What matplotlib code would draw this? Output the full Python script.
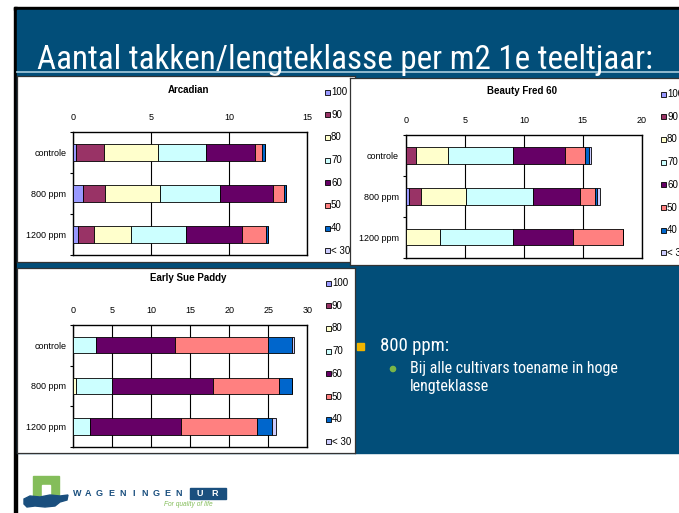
import numpy as np
import matplotlib.pyplot as plt
from matplotlib import font_manager
from matplotlib.patches import Rectangle, Circle, Polygon

W, H = 679, 513

classes = ['100', '90', '80', '70', '60', '50', '40', '< 30']
groups = ['controle', '800 ppm', '1200 ppm']
class_colors = ['#9999FF', '#993366', '#FFFFCC', '#CCFFFF',
                '#660066', '#FF8080', '#0066CC', '#CCCCFF']

# rows = length class, columns = controle / 800 ppm / 1200 ppm
arcadian = [
    [0.19, 0.64, 0.30],
    [1.80, 1.37, 1.05],
    [3.42, 3.53, 2.35],
    [3.12, 3.85, 3.55],
    [3.10, 3.44, 3.55],
    [0.49, 0.66, 1.54],
    [0.17, 0.17, 0.11],
    [0.00, 0.00, 0.00],
]
beauty = [
    [0.00, 0.23, 0.00],
    [0.88, 1.02, 0.00],
    [2.66, 3.82, 2.89],
    [5.57, 5.74, 6.22],
    [4.41, 3.93, 5.09],
    [1.64, 1.27, 4.21],
    [0.40, 0.17, 0.00],
    [0.17, 0.25, 0.00],
]
early = [
    [0.00, 0.00, 0.00],
    [0.00, 0.00, 0.00],
    [0.00, 0.38, 0.00],
    [2.95, 4.53, 2.18],
    [10.04, 12.99, 11.67],
    [11.92, 8.50, 9.74],
    [3.16, 1.58, 1.92],
    [0.26, 0.00, 0.47],
]

title = "Aantal takken/lengteklasse per m2 1e teeltjaar:"
bullet = "800 ppm:"
sub_lines = ["Bij alle cultivars toename in hoge", "lengteklasse"]

plt.rcParams['font.family'] = ['Liberation Sans', 'DejaVu Sans']

# look for a condensed face for the slide text
narrow_kw = {'family': ['Liberation Sans', 'DejaVu Sans']}
for fam, stretch in [('Liberation Sans Narrow', 'normal'),
                     ('Roboto Condensed', 'normal'),
                     ('DejaVu Sans', 'condensed'),
                     ('Roboto', 'condensed'),
                     ('Open Sans', 'condensed')]:
    fp = font_manager.FontProperties(family=fam, stretch=stretch)
    try:
        path = font_manager.findfont(fp, fallback_to_default=False)
    except Exception:
        continue
    if 'ondensed' in path or 'arrow' in path:
        narrow_kw = {'family': [fam, 'DejaVu Sans'], 'stretch': stretch}
        break


def rect(x0, y0, x1, y1):
    return [x0 / W, 1 - y1 / H, (x1 - x0) / W, (y1 - y0) / H]


def fit(txt, width, size):
    fig.canvas.draw()
    bw = txt.get_window_extent().width
    txt.set_fontsize(size * width / bw)


fig = plt.figure(figsize=(W / 100, H / 100), dpi=100)
fig.patch.set_facecolor('white')

# slide background
bg = fig.add_axes([0, 0, 1, 1])
bg.set_xlim(0, W)
bg.set_ylim(H, 0)
bg.axis('off')
bg.set_zorder(0)
bg.add_patch(Rectangle((14, 7), W - 14, 2.5, color='black'))
bg.add_patch(Rectangle((14, 7), 3, H - 7, color='black'))
bg.add_patch(Rectangle((17, 9.5), W - 17, 443.5, color='#024e79'))
bg.plot([17, W], [71.5, 71.5], color='#9cc3d5', lw=1.3)

t = bg.text(37, 68.5, title, color='white', fontsize=22, va='baseline',
            ha='left', **narrow_kw)
fit(t, 615, 22)

# bullet text
bg.add_patch(Rectangle((357, 342.5), 7, 7, color='#f0b400'))
b1 = bg.text(380, 346, bullet, color='white', fontsize=13, va='center', **narrow_kw)
fit(b1, 69, 13)
bg.add_patch(Circle((393, 369), 2.6, color='#7ab648'))
s1 = bg.text(410, 369, sub_lines[0], color='white', fontsize=10, va='center', **narrow_kw)
fit(s1, 208, 10)
bg.text(410, 387, sub_lines[1], color='white', fontsize=s1.get_fontsize(),
        va='center', **narrow_kw)

# logo
bg.add_patch(Rectangle((33, 476), 26, 22, color='#84bd5a'))
bg.add_patch(Rectangle((42, 485), 8, 14, color='white'))
wave = [(24, 499), (30, 496), (40, 497), (50, 495), (60, 496), (68, 495),
        (67, 500), (60, 502), (55, 506), (45, 507), (35, 506), (27, 507),
        (24, 504)]
bg.add_patch(Polygon(wave, closed=True, color='#1a4f7e'))
for i, ch in enumerate('WAGENINGEN'):
    bg.text(77 + i * 11.3, 493.5, ch, color='#1a4f7e', fontsize=6.5,
            fontweight='bold', ha='center', va='center')
bg.add_patch(Rectangle((190, 488), 36, 10.5, color='#1a4f7e'))
bg.text(200, 493.5, 'U', color='white', fontsize=6.5, fontweight='bold',
        ha='center', va='center')
bg.text(215, 493.5, 'R', color='white', fontsize=6.5, fontweight='bold',
        ha='center', va='center')
bg.text(188, 505, 'For quality of life', color='#84bd5a', fontsize=4.8,
        style='italic', ha='center', va='center')


def draw_chart(box, plot, name, vals, xmax, step, z, title_y, leg_x, leg_y0):
    bx = fig.add_axes(rect(*box))
    bx.set_zorder(z)
    bx.set_xlim(box[0], box[2])
    bx.set_ylim(box[3], box[1])
    bx.set_xticks([])
    bx.set_yticks([])
    bx.set_facecolor('white')
    for s in bx.spines.values():
        s.set_color('#333333')
        s.set_linewidth(0.9)

    # legend
    for i, (lab, col) in enumerate(zip(classes, class_colors)):
        yy = leg_y0 + i * 22.7
        bx.add_patch(Rectangle((leg_x - 2.5, yy - 2.5), 5, 5, facecolor=col,
                               edgecolor='black', lw=0.6))
        bx.text(leg_x + 4, yy, lab, fontsize=7, va='center', ha='left')

    ax = fig.add_axes(rect(*plot))
    ax.set_zorder(z + 1)
    ax.set_facecolor('none')
    ypos = np.arange(len(groups))
    left = np.zeros(len(groups))
    for row, col in zip(vals, class_colors):
        row = np.array(row)
        ax.barh(ypos, row, left=left, height=0.4, color=col,
                edgecolor='black', linewidth=0.6, zorder=3)
        left += row
    ax.set_xlim(0, xmax)
    ax.set_ylim(2.5, -0.5)
    ax.set_xticks(np.arange(0, xmax + 0.1, step))
    ax.xaxis.tick_top()
    ax.tick_params(axis='x', length=0, pad=7, labelsize=6.5)
    ax.set_yticks(ypos)
    ax.set_yticklabels(groups)
    ax.tick_params(axis='y', which='major', length=0, pad=5, labelsize=6.5)
    ax.set_yticks([-0.5, 0.5, 1.5, 2.5], minor=True)
    ax.tick_params(axis='y', which='minor', length=2.5, width=0.8)
    ax.grid(axis='x', color='black', lw=0.8, zorder=0)
    for s in ax.spines.values():
        s.set_color('black')
        s.set_linewidth(1)
    cx = (plot[0] + plot[2]) / 2
    bx.text(cx - 2, title_y, name, fontsize=7, fontweight='bold',
            ha='center', va='center')


draw_chart((17, 76, 355, 262), (73.3, 132, 307.3, 255), 'Arcadian',
           arcadian, 15, 5, 1, 90, 327, 92)
draw_chart((350, 77.5, 690, 264.5), (406, 135, 641.7, 257.7), 'Beauty Fred 60',
           beauty, 20, 5, 3, 91, 663, 94)
draw_chart((17, 268, 355, 453), (73.3, 325, 307.3, 446.7), 'Early Sue Paddy',
           early, 30, 5, 1, 278, 328, 283)

fig.savefig('out.png', dpi=100)
